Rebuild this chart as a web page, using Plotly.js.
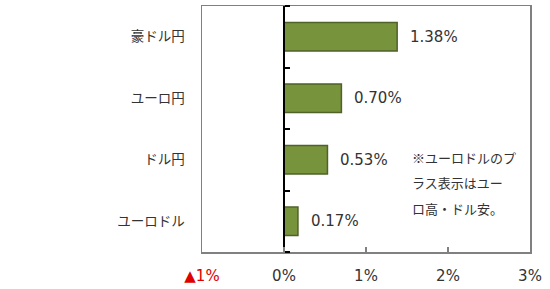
<!DOCTYPE html>
<html><head><meta charset="utf-8">
<script src="https://cdn.plot.ly/plotly-3.0.1.min.js"></script>
<style>body{margin:0}#c{width:550px;height:289px}</style>
</head><body><div id="c"></div>
<script>
const categories = ["ユーロドル", "ドル円", "ユーロ円", "豪ドル円"];
const values = [0.17, 0.53, 0.70, 1.38];
const labels = ["0.17%", "0.53%", "0.70%", "1.38%"];
const xTickVals = [-1, 0, 1, 2, 3];
const xTickText = ['<span style="color:#e00000">▲1%</span>', "0%", "1%", "2%", "3%"];
const noteLines = ["※ユーロドルのプ", "ラス表示はユー", "ロ高・ドル安。"];

const jp = "Noto Sans CJK JP, sans-serif";
const num = "DejaVu Sans, Noto Sans CJK JP, sans-serif";
const traces = [{
  type: "bar", orientation: "h", x: values, y: categories,
  width: 0.46,
  marker: {color: "#77933C", line: {color: "#4F6228", width: 1.5}},
  hoverinfo: "none"
}, {
  type: "scatter", mode: "none", x: [0, 0, 0, 0], y: categories, yaxis: "y2", hoverinfo: "none", showlegend: false
}];
const annotations = values.map((v, i) => ({
  x: v, y: categories[i], xref: "x", yref: "y", text: labels[i],
  showarrow: false, xanchor: "left", xshift: 11,
  font: {family: num, size: 15, color: "#333"}
}));
const L = 202, R = 20, T = 6, B = 37, W = 550, H = 289;
noteLines.forEach((t, i) => annotations.push({
  x: (410 - L) / (W - L - R), y: 1 - (157 + i * 25.5 - T) / (H - T - B),
  xref: "paper", yref: "paper", text: t, showarrow: false,
  xanchor: "left", yanchor: "middle", font: {family: jp, size: 13, color: "#333"}
}));
const layout = {
  width: W, height: H, margin: {l: L, r: R, t: T, b: B},
  paper_bgcolor: "#fff", plot_bgcolor: "#fff", showlegend: false,
  font: {family: jp, size: 13, color: "#333"},
  xaxis: {
    range: [-1, 3], tickvals: xTickVals, ticktext: xTickText,
    showgrid: false, zeroline: false, showline: true, mirror: true,
    linecolor: "#808080", linewidth: 1.5, ticks: "inside", ticklen: 5, tickcolor: "#808080",
    tickwidth: 1.5, ticklabelstandoff: 9, tickfont: {family: num, size: 15, color: "#333"}
  },
  yaxis: {
    type: "category", categoryarray: categories, range: [-0.5, 3.5],
    showgrid: false, zeroline: false, showline: true, mirror: true,
    linecolor: "#808080", linewidth: 1.5, ticks: "", ticklabelstandoff: 13,
    tickfont: {family: jp, size: 13.5, color: "#333"}
  },
  yaxis2: {
    type: "category", categoryarray: categories, range: [-0.5, 3.5], overlaying: "y",
    anchor: "free", position: 0.25, side: "right", showline: true, linecolor: "#000",
    linewidth: 2, ticks: "outside", ticklen: 5, tickwidth: 2, tickcolor: "#000",
    tickson: "boundaries", showticklabels: false, showgrid: false, zeroline: false
  },
  annotations: annotations
};
Plotly.newPlot("c", traces, layout, {staticPlot: true});
</script></body></html>
